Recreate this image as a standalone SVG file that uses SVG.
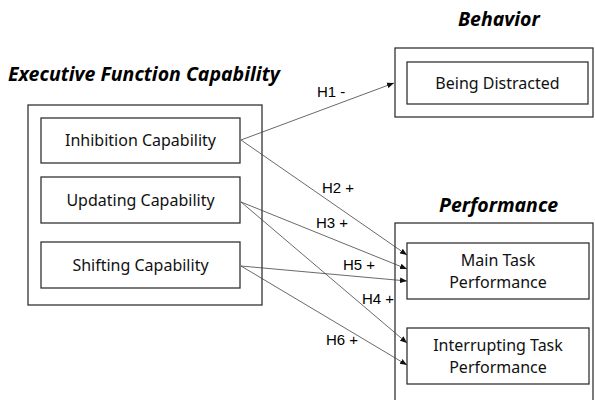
<svg xmlns="http://www.w3.org/2000/svg" width="595" height="400" viewBox="0 0 595 400">
  <style>
    .frame { fill: none; stroke: #333; stroke-width: 1.3; }
    .node { fill: #fff; stroke: #333; stroke-width: 1.3; }
    .title { font-family: "Noto Sans", "DejaVu Sans", sans-serif; font-weight: bold; font-style: italic; font-size: 19.5px; fill: #000; }
    .label { font-family: "Noto Sans", "DejaVu Sans", sans-serif; font-size: 16px; fill: #111; text-anchor: middle; }
    .hyp { font-family: "Liberation Sans", Arial, sans-serif; font-size: 15px; fill: #000; }
    .edge { stroke: #444; stroke-width: 0.8; fill: none; marker-end: url(#arrow); }
  </style>
  <defs>
    <marker id="arrow" viewBox="0 0 10 10" refX="10" refY="5" markerWidth="7" markerHeight="7" markerUnits="userSpaceOnUse" orient="auto">
      <path d="M0,1 L10,5 L0,9 z" fill="#111"/>
    </marker>
  </defs>
  <rect width="595" height="400" fill="#fff"/>

  <!-- Executive function group -->
  <g id="executive-function">
    <text class="title" x="8" y="81">Executive Function Capability</text>
    <rect class="frame" x="28" y="105" width="234" height="200"/>
  </g>
  <g id="inhibition">
    <rect class="node" x="41" y="118" width="199" height="45"/>
    <text class="label" x="140.5" y="146">Inhibition Capability</text>
  </g>
  <g id="updating">
    <rect class="node" x="41" y="177" width="199" height="46"/>
    <text class="label" x="140.5" y="206">Updating Capability</text>
  </g>
  <g id="shifting">
    <rect class="node" x="41" y="242" width="199" height="46"/>
    <text class="label" x="140.5" y="271">Shifting Capability</text>
  </g>

  <!-- Behavior group -->
  <g id="behavior">
    <text class="title" x="458" y="26">Behavior</text>
    <rect class="frame" x="395" y="48" width="198" height="69"/>
  </g>
  <g id="being-distracted">
    <rect class="node" x="407" y="62" width="181" height="42"/>
    <text class="label" x="497.5" y="89">Being Distracted</text>
  </g>

  <!-- Performance group -->
  <g id="performance">
    <text class="title" x="439" y="212">Performance</text>
    <rect class="frame" x="395" y="223" width="198" height="190"/>
  </g>
  <g id="main-task">
    <rect class="node" x="407" y="243" width="182" height="56"/>
    <text class="label" x="498" y="266">Main Task</text>
    <text class="label" x="498" y="288">Performance</text>
  </g>
  <g id="interrupting-task">
    <rect class="node" x="407" y="328" width="182" height="56"/>
    <text class="label" x="498" y="351">Interrupting Task</text>
    <text class="label" x="498" y="373">Performance</text>
  </g>

  <!-- Hypothesis paths -->
  <g id="connectors">
    <line class="edge" x1="241" y1="140" x2="394" y2="83"/>
    <line class="edge" x1="241" y1="140" x2="407" y2="255"/>
    <line class="edge" x1="241" y1="202" x2="407" y2="269"/>
    <line class="edge" x1="241" y1="266" x2="407" y2="281"/>
    <line class="edge" x1="241" y1="202" x2="407" y2="343"/>
    <line class="edge" x1="241" y1="266" x2="407" y2="365"/>
    <text class="hyp" x="317" y="97">H1 -</text>
    <text class="hyp" x="322" y="193">H2 +</text>
    <text class="hyp" x="316" y="228">H3 +</text>
    <text class="hyp" x="343" y="270">H5 +</text>
    <text class="hyp" x="362" y="304">H4 +</text>
    <text class="hyp" x="326" y="345">H6 +</text>
  </g>
</svg>
